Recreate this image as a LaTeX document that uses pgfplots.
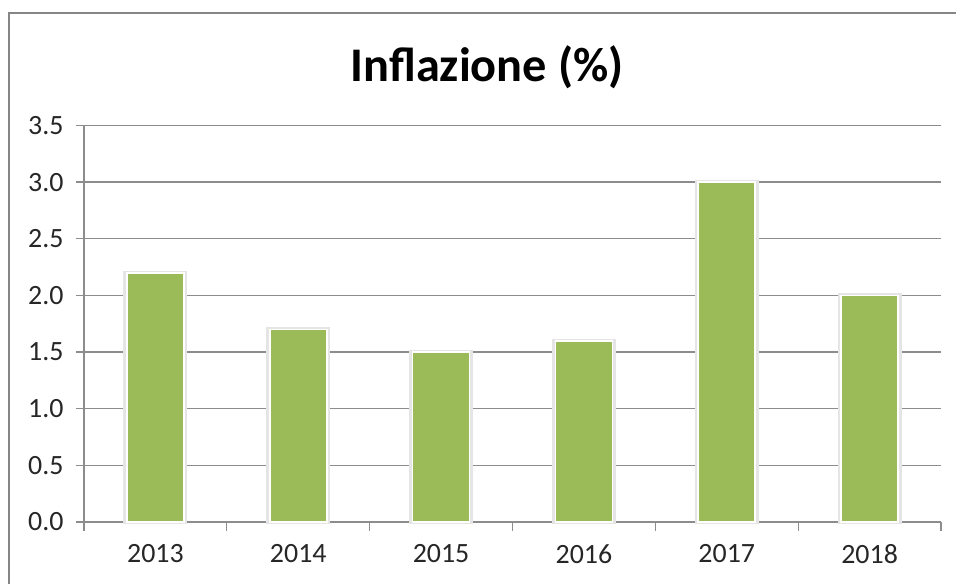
\documentclass[border=0pt]{standalone}
\usepackage{pgfplots}
\pgfplotsset{compat=1.18}
\usepackage{fontspec}
\setmainfont{Carlito}
\definecolor{bargreen}{HTML}{9BBB59}
\definecolor{gridgray}{HTML}{8C8C8C}
\definecolor{framegray}{HTML}{868686}
\begin{document}
\begin{tikzpicture}[x=1bp,y=1bp]
\path[use as bounding box] (0,0) rectangle (956,584);
\draw[framegray, line width=2.2bp] (9,-20) -- (9,571) -- (980,571);
\node[font=\fontsize{48.5}{54}\selectfont\bfseries] at (487,517) {Inflazione (\%)};
\begin{axis}[
  at={(84bp,62bp)}, anchor=south west,
  scale only axis, width=857bp, height=396.5bp,
  xmin=-0.5, xmax=5.5, ymin=0, ymax=3.5,
  axis lines*=left,
  axis line style={gridgray, line width=1.3bp},
  xtick={0,1,2,3,4,5},
  xticklabels={2013,2014,2015,2016,2017,2018},
  minor xtick={-0.5,0.5,1.5,2.5,3.5,4.5,5.5},
  ytick={0,0.5,1,1.5,2,2.5,3,3.5},
  yticklabel style={/pgf/number format/fixed, /pgf/number format/fixed zerofill, /pgf/number format/precision=1},
  /pgf/number format/assume math mode=true,
  ymajorgrids,
  major grid style={gridgray, line width=1.3bp},
  tick align=outside,
  major x tick style={draw=none},
  major y tick style={gridgray, line width=1.3bp},
  minor x tick style={gridgray, line width=1.3bp},
  major tick length=8bp, minor tick length=9bp,
  tick label style={font=\fontsize{28}{32}\selectfont, text=black!85},
  xticklabel style={yshift=-11bp},
  yticklabel style={xshift=-9bp},
  clip=false,
]
\addplot[ybar, bar width=60bp, fill=none, draw=black!10, line width=4bp, forget plot]
  coordinates {(0,2.2) (1,1.7) (2,1.5) (3,1.6) (4,3.0) (5,2.0)};
\addplot[ybar, bar width=57bp, fill=bargreen, draw=white, line width=1.6bp]
  coordinates {(0,2.2) (1,1.7) (2,1.5) (3,1.6) (4,3.0) (5,2.0)};
\end{axis}
\end{tikzpicture}
\end{document}
